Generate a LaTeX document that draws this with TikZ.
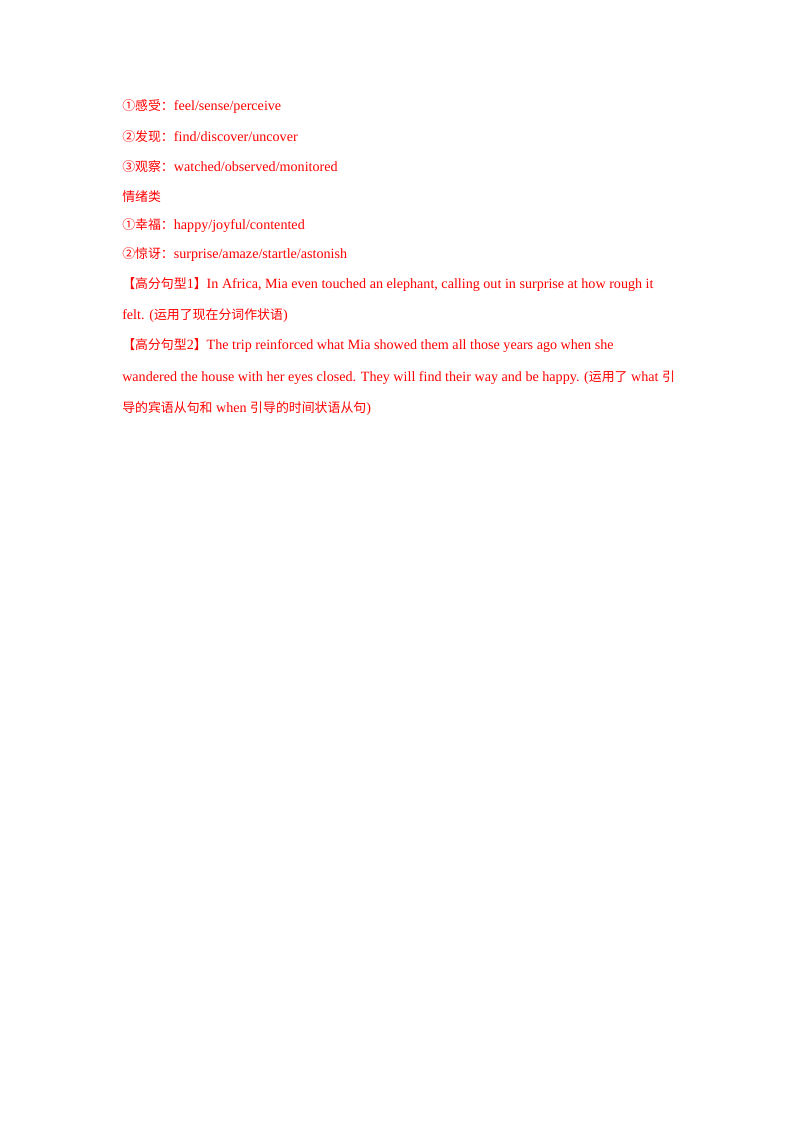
\documentclass[tikz,border=0pt]{standalone}
\usepackage{fontspec}
\setmainfont{Liberation Serif}
\newfontfamily\cjk{Noto Sans CJK SC}
\newcommand{\C}[1]{{\cjk\fontsize{9.6}{12}\selectfont #1}}
\definecolor{txtred}{RGB}{255,0,0}
\begin{document}
\begin{tikzpicture}[x=0.744pt,y=-0.744pt,
  line/.style={anchor=west,inner sep=0pt,text=txtred,font=\fontsize{10.5}{12}\selectfont}]
\useasboundingbox (0,0) rectangle (800,1132);
\node[line] (l1) at (122,107) {\C{①感受：}feel/sense/perceive};
\node[line] (l2) at (122,137) {\C{②发现：}find/discover/uncover};
\node[line] (l3) at (122,167) {\C{③观察：}watched/observed/monitored};
\node[line] (l4) at (122,197) {\C{情绪类}};
\node[line] (l5) at (122,226) {\C{①幸福：}happy/joyful/contented};
\node[line] (l6) at (122,255) {\C{②惊讶：}surprise/amaze/startle/astonish};
\node[line] (l7) at (122,285) {\C{【高分句型}1\C{】}In Africa, Mia even touched an elephant, calling out in surprise at how rough it};
\node[line] (l8) at (122,316) {felt. (\C{运用了现在分词作状语})};
\node[line] (l9) at (122,346) {\C{【高分句型}2\C{】}The trip reinforced what Mia showed them all those years ago when she};
\node[line] (l10) at (122,378) {wandered the house with her eyes closed. They will find their way and be happy. (\C{运用了} what \C{引}};
\node[line] (l11) at (122,409) {\C{导的宾语从句和} when \C{引导的时间状语从句})};
\end{tikzpicture}
\end{document}
